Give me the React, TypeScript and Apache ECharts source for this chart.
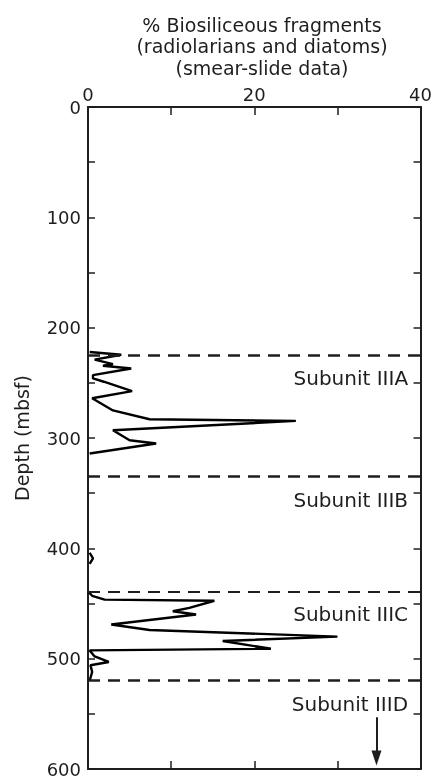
import React, { useEffect, useRef } from 'react';
import * as echarts from 'echarts';

// Subunit IIIA trace: depth (mbsf) and % biosiliceous fragments
const depthIIIA = [222, 224.5, 229, 233, 234.5, 237, 243, 246, 249, 257.5, 264, 275, 283, 284.5, 293, 302, 305, 314];
const valueIIIA = [0.2, 4, 0.8, 3, 1.8, 5.2, 0.6, 0.6, 1.9, 5.3, 0.5, 3, 7.4, 25, 3, 5, 8.2, 0.2];

// Subunit IIIB trace
const depthIIIB = [404, 409, 414];
const valueIIIB = [0.2, 0.6, 0.2];

// Subunit IIIC trace
const depthIIIC = [439, 443, 446.5, 447.5, 454, 457, 460, 469, 474, 480, 484, 491, 492.5, 498, 503, 506, 512, 520];
const valueIIIC = [0, 0.5, 2, 15.2, 12.2, 10.2, 13, 2.8, 7.4, 30, 16.2, 22, 0.2, 0.8, 2.5, 0.3, 0.5, 0.2];

// Subunit boundaries (dashed lines) and labels
const boundaryDepths = [225, 335, 439, 520];
const boundaryWidths = [2.5, 2.5, 2, 2.5];
const subunitNames = ['Subunit IIIA', 'Subunit IIIB', 'Subunit IIIC', 'Subunit IIID'];

// Arrow (continues downward)
const arrowValue = 34.7;
const arrowDepths = [553, 590];

// Axis tick labels
const xLabelValues = [0, 20, 40];
const yLabelValues = [0, 100, 200, 300, 400, 500, 600];

const titleLines = ['% Biosiliceous fragments', '(radiolarians and diatoms)', '(smear-slide data)'];

const FONT = 'DejaVu Sans';
const INK = '#1e1e1e';

export default function App() {
  const ref = useRef<HTMLDivElement>(null);

  useEffect(() => {
    if (!ref.current) return;
    const chart = echarts.init(ref.current, null, { renderer: 'svg' });
    const pairs = (d: number[], v: number[]) => v.map((x, i) => [x, d[i]]);

    const axisLine = { show: true, onZero: false, lineStyle: { color: INK, width: 2 } };
    const xBase = {
      type: 'value',
      min: 0,
      max: 40,
      interval: 10,
      axisLine,
      splitLine: { show: false },
      axisTick: { show: true, inside: true, length: 8, lineStyle: { color: INK, width: 1.5 } },
    };
    const yBase = {
      type: 'value',
      inverse: true,
      min: 0,
      max: 600,
      interval: 50,
      axisLine,
      splitLine: { show: false },
      axisTick: { show: true, inside: true, length: 7, lineStyle: { color: INK, width: 1.5 } },
    };

    const lineSeries = (name: string, data: number[][], extra: any = {}) => ({
      name,
      type: 'line',
      data,
      showSymbol: false,
      symbol: 'none',
      lineStyle: { color: '#000', width: 2.4 },
      silent: true,
      ...extra,
    });

    chart.setOption({
      animation: false,
      grid: { left: 88, right: 12, top: 107, bottom: 8, containLabel: false },
      xAxis: [
        {
          ...xBase,
          position: 'top',
          axisLabel: {
            show: true,
            margin: 4,
            fontSize: 18,
            fontFamily: FONT,
            color: INK,
            formatter: (v: number) => (xLabelValues.includes(v) ? String(v) : ''),
          },
        },
        { ...xBase, position: 'bottom', axisLabel: { show: false } },
      ],
      yAxis: [
        {
          ...yBase,
          position: 'left',
          name: 'Depth (mbsf)',
          nameLocation: 'middle',
          nameRotate: 90,
          nameGap: 57,
          nameTextStyle: { fontSize: 19, fontFamily: FONT, color: INK },
          axisLabel: {
            show: true,
            margin: 7,
            fontSize: 18,
            fontFamily: FONT,
            color: INK,
            formatter: (v: number) => (yLabelValues.includes(v) ? String(v) : ''),
          },
        },
        { ...yBase, position: 'right', axisLabel: { show: false } },
      ],
      series: [
        lineSeries('IIIA', pairs(depthIIIA, valueIIIA), {
          markLine: {
            silent: true,
            symbol: ['none', 'none'],
            label: { show: false },
            data: boundaryDepths.map((d, i) => ({
              yAxis: d,
              lineStyle: { color: INK, width: boundaryWidths[i], type: [12, 8] },
            })),
          },
        }),
        lineSeries('IIIB', pairs(depthIIIB, valueIIIB)),
        lineSeries('IIIC', pairs(depthIIIC, valueIIIC), {
          markLine: {
            silent: true,
            symbol: ['none', 'triangle'],
            symbolSize: [10, 15],
            label: { show: false },
            lineStyle: { color: INK, width: 2, type: 'solid' },
            data: [[{ coord: [arrowValue, arrowDepths[0]] }, { coord: [arrowValue, arrowDepths[1]] }]],
          },
        }),
      ],
    });

    const labelX = chart.convertToPixel({ xAxisIndex: 0 }, 38.5) as number;
    const subunitTexts = boundaryDepths.map((d, i) => {
      const y = chart.convertToPixel({ yAxisIndex: 0 }, d) as number;
      return {
        type: 'text',
        x: labelX,
        y: y + 23,
        silent: true,
        style: {
          text: subunitNames[i],
          align: 'right',
          verticalAlign: 'middle',
          fontSize: 20,
          fontFamily: FONT,
          fill: INK,
        },
      };
    });

    chart.setOption({
      graphic: [
        {
          type: 'text',
          x: 262,
          y: 14,
          silent: true,
          style: {
            text: titleLines.join('\n'),
            align: 'center',
            verticalAlign: 'top',
            fontSize: 19,
            lineHeight: 21.5,
            fontFamily: FONT,
            fill: INK,
          },
        },
        ...subunitTexts,
      ],
    });

    return () => chart.dispose();
  }, []);

  return <div ref={ref} style={{ position: 'fixed', left: 0, top: 0, width: 435, height: 778 }} />;
}
